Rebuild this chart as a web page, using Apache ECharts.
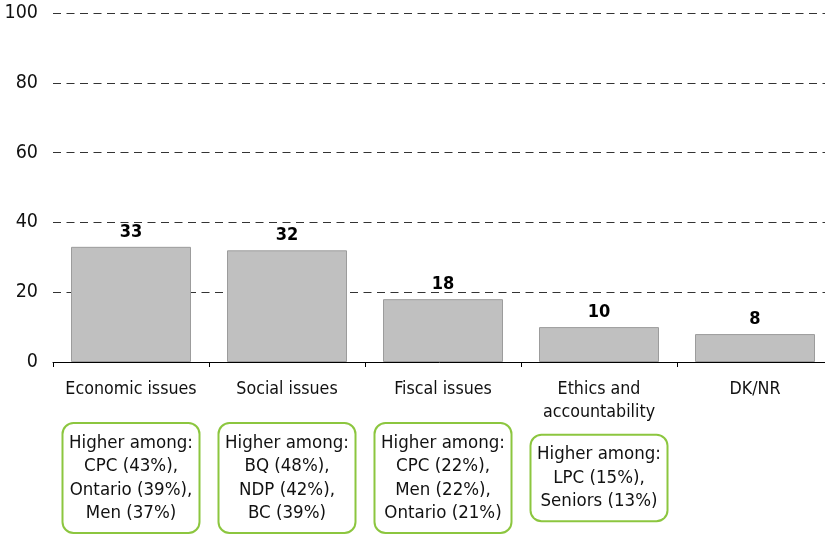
<!DOCTYPE html>
<html>
<head>
<meta charset="utf-8">
<script src="https://cdn.jsdelivr.net/npm/echarts@6/dist/echarts.min.js"></script>
<style>
html, body { margin: 0; padding: 0; background: #fff; }
#chart { width: 825px; height: 535px; }
</style>
</head>
<body>
<div id="chart"></div>
<script>
var categories = ['Economic issues', 'Social issues', 'Fiscal issues', 'Ethics and\naccountability', 'DK/NR'];
var values = [33, 32, 18, 10, 8];
var notes = [
	'Higher among:\nCPC (43%),\nOntario (39%),\nMen (37%)',
	'Higher among:\nBQ (48%),\nNDP (42%),\nBC (39%)',
	'Higher among:\nCPC (22%),\nMen (22%),\nOntario (21%)',
	'Higher among:\nLPC (15%),\nSeniors (13%)',
	''
];
var yTicks = [0, 20, 40, 60, 80, 100];

var font = '"DejaVu Sans Condensed", "DejaVu Sans", sans-serif';
var myChart = echarts.init(document.getElementById('chart'));
myChart.setOption({
	animation: false,
	grid: {
		left: 53,
		width: 780,
		top: 13,
		height: 349,
		outerBoundsMode: 'none'
	},
	xAxis: [
		{
			type: 'category',
			data: categories,
			axisLine: { lineStyle: { color: '#000', width: 1 } },
			axisTick: { show: true, length: 5, interval: 0, lineStyle: { color: '#000' } },
			axisLabel: {
				interval: 0,
				color: '#111',
				fontFamily: font,
				fontSize: 17.7,
				lineHeight: 23,
				margin: 16
			}
		},
		{
			type: 'category',
			position: 'bottom',
			data: categories,
			axisLine: { show: false },
			axisTick: { show: false },
			axisLabel: {
				interval: function (i) { return notes[i] !== ''; },
				formatter: function (v, i) { return notes[i]; },
				color: '#111',
				fontFamily: font,
				fontSize: 18.5,
				lineHeight: 23.5,
				verticalAlign: 'middle',
				margin: 116,
				width: 121,
				align: 'center',
				padding: [7, 7, 7, 7],
				borderColor: '#8cc63f',
				borderWidth: 2,
				borderRadius: 10,
				backgroundColor: '#fff'
			}
		}
	],
	yAxis: {
		type: 'value',
		min: 0,
		max: 100,
		interval: 20,
		axisLine: { show: false },
		axisTick: { show: false },
		axisLabel: {
			color: '#111',
			fontFamily: font,
			fontSize: 19.5,
			margin: 15,
			formatter: function (v) { return yTicks.indexOf(v) >= 0 ? v : ''; }
		},
		splitLine: {
			lineStyle: { color: '#333', type: [8, 5.5], width: 1 }
		}
	},
	series: [
		{
			type: 'bar',
			data: values,
			barWidth: 120,
			itemStyle: { color: '#c0c0c0', borderColor: '#9c9c9c', borderWidth: 1 },
			label: {
				show: true,
				position: 'top',
				distance: 6,
				color: '#000',
				fontFamily: font,
				fontWeight: 'bold',
				fontSize: 18
			}
		}
	]
});
</script>
</body>
</html>
